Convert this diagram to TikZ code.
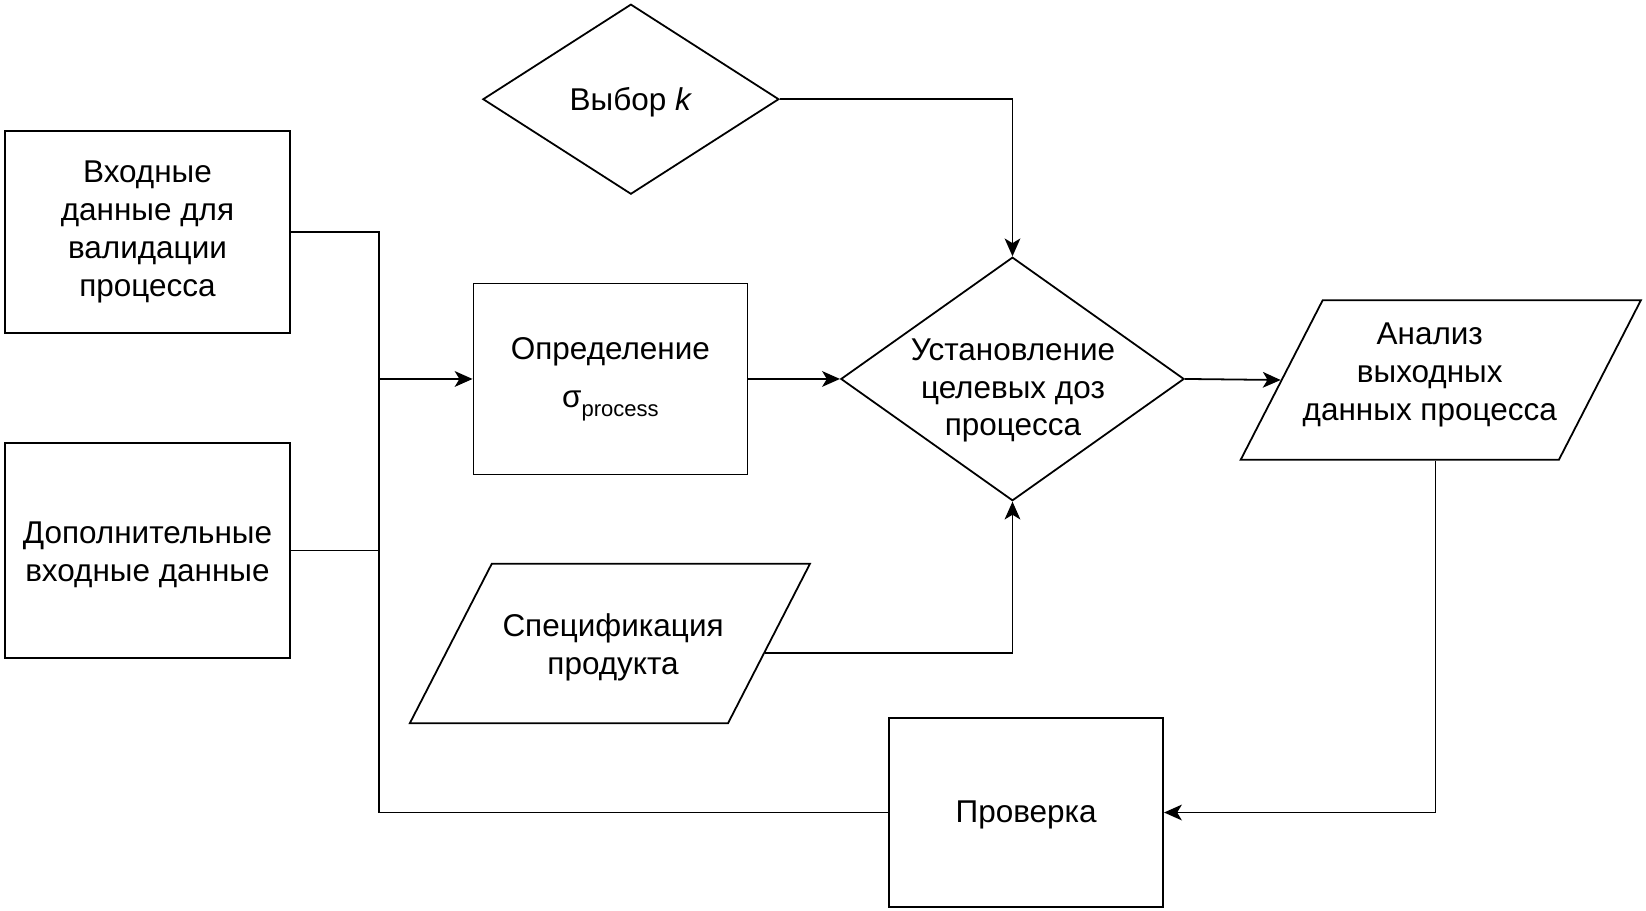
\documentclass[tikz,border=0pt]{standalone}
\usepackage{fontspec}
\setmainfont{Liberation Sans}
\usetikzlibrary{shapes.geometric,arrows.meta,calc}
\begin{document}
\begin{tikzpicture}[x=1pt,y=-1pt,
  every node/.style={font=\fontsize{30}{36}\selectfont},
  box/.style={draw, line width=1.7pt, rectangle, inner sep=0pt, align=center},
  dia/.style={draw, line width=1.7pt, diamond, inner sep=0pt},
  para/.style={draw, line width=1.7pt, trapezium, trapezium left angle=62.8, trapezium right angle=117.2, inner xsep=112.5pt, inner ysep=76pt, minimum width=0pt, minimum height=0pt},
  txt/.style={align=center},
  wire/.style={line width=1.7pt},
  arr/.style={wire, -{Stealth[length=17pt,width=15pt,inset=4.5pt]}}]
\useasboundingbox (0,0) rectangle (1568,867);
\node[box, minimum width=271pt, minimum height=192pt] (vx) at (140.5,221) {Входные\\данные для\\валидации\\процесса};
\node[box, minimum width=271pt, minimum height=205pt] (dop) at (140.5,524.5) {};
\node[txt] (dopt) at (140.5,528.5) {Дополнительные\\входные данные};
\node[box, minimum width=261pt, minimum height=182pt] (opr) at (581.5,361) {Определение\\[10pt]σ\raisebox{-8pt}{\fontsize{21}{21}\selectfont process}};
\node[dia, minimum width=282pt, minimum height=181pt] (vyb) at (601,94.5) {};
\node[txt] (vybt) at (601,97.5) {Выбор \textit{k}};
\node[dia, minimum width=327pt, minimum height=232pt] (ust) at (964.5,361) {};
\node[txt] (ustt) at (965,372) {Установление\\целевых доз\\процесса};
\node[para] (anal) at (1372.5,362) {};
\node[txt] (analt) at (1362,357) {Анализ\\выходных\\данных процесса};
\node[para] (spec) at (581,613) {};
\node[txt] (spect) at (584,617) {Спецификация\\продукта};
\node[box, minimum width=261pt, minimum height=180pt] (prov) at (977.5,774) {};
\node[txt] (provt) at (977.5,776) {Проверка};
\coordinate (tr) at (361,361);
\coordinate (specout) at ($(spec.bottom right corner)!0.44!(spec.top right corner)$);
\draw[wire] (vx.east) -| (tr);
\draw[wire] (dop.east) -| (tr);
\draw[wire] (prov.west) -| (tr);
\draw[arr] (tr) -- (opr.west);
\draw[arr] (opr.east) -- (ust.west);
\draw[arr] (vyb.east) -| (ust.north);
\draw[arr] (specout) -| (ust.south);
\draw[arr] (ust.east) -- (anal.west);
\draw[arr] ([xshift=-5pt]anal.south) |- (prov.east);
\end{tikzpicture}
\end{document}
